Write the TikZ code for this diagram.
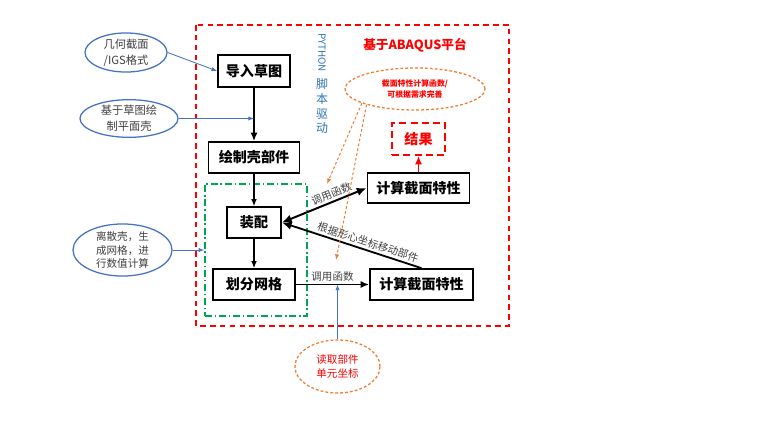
\documentclass[tikz,border=0pt]{standalone}
\usepackage{fontspec}
\setmainfont{Noto Sans CJK SC}
\usetikzlibrary{positioning, arrows.meta, shapes.geometric}
\definecolor{rojo}{HTML}{FF0000}
\definecolor{naranja}{HTML}{ED7D31}
\definecolor{azul}{HTML}{4472C4}
\definecolor{celeste}{HTML}{2E75B6}
\definecolor{verde}{HTML}{00A550}
\definecolor{tenue}{HTML}{404040}

\begin{document}
\begin{tikzpicture}[x=0.025cm, y=-0.025cm,
		caja/.style={draw, line width=1.2pt, inner sep=0pt, font=\fontsize{10}{12}\selectfont\bfseries},
		nube/.style={ellipse, draw=azul, line width=0.9pt, fill=white, inner sep=0pt, align=center, text=tenue, font=\fontsize{8}{11.5}\selectfont},
		nota/.style={ellipse, draw=naranja, dash pattern=on 2pt off 1.5pt, line width=0.9pt, inner sep=0pt, align=center, text=rojo},
		flecha/.style={-{Latex[length=5pt,width=4pt]}, line width=0.8pt},
		gruesa/.style={-{Latex[length=6pt,width=5pt]}, line width=1.3pt},
		doble/.style={{Latex[length=7pt,width=6pt]}-{Latex[length=7pt,width=6pt]}, line width=1.4pt},
		vuelta/.style={{Latex[length=7pt,width=6pt]}-, line width=1.3pt},
		fina/.style={-{Latex[length=4pt,width=3pt]}, azul, line width=0.6pt},
		punteada/.style={-{Latex[length=4pt,width=3pt]}, naranja, dash pattern=on 2pt off 1.5pt, line width=0.7pt},
		etiq/.style={text=tenue, font=\fontsize{7.5}{9}\selectfont, inner sep=1.5pt},
	]
	\useasboundingbox (0,0) rectangle (760,427);
	% marcos
	\draw[rojo, dash pattern=on 4pt off 3pt, line width=1.1pt] (196,25) rectangle (509,326);
	\node[draw=verde, dash pattern=on 5pt off 2pt on 1pt off 2pt, line width=1pt, minimum width=2.55cm, minimum height=3.3cm] (lsk) at (256,250) {};
	\node[text=rojo, font=\fontsize{9}{10}\selectfont\bfseries] (tit) at (415,45) {基于ABAQUS平台};
	\node[rotate=-90, anchor=west, text=celeste, font=\fontsize{7}{8}\selectfont, inner sep=0pt] (py) at (322,33) {PYTHON};
	\node[anchor=north, align=center, text=celeste, font=\fontsize{8.5}{10.6}\selectfont, inner sep=0pt] (qd) at (322,78) {脚\\本\\驱\\动};
	\node[nota, minimum width=3.5cm, minimum height=1.05cm, font=\fontsize{5.6}{7.2}\selectfont\bfseries] (hs) at (415,89) {截面特性计算函数/\\可根据需求完善};
	% cajas
	\node[caja, draw=rojo, text=rojo, dash pattern=on 5pt off 3pt, minimum width=1.325cm, minimum height=0.8cm] (jg) at (418.5,139) {结果};
	\node[caja, minimum width=1.8cm, minimum height=0.8cm] (dr) at (254,71) {导入草图};
	\node[caja, minimum width=2.275cm, minimum height=0.775cm] (hz) at (254,157.5) {绘制壳部件};
	\node[caja, minimum width=1.35cm, minimum height=0.775cm] (zp) at (254,222.5) {装配};
	\node[caja, minimum width=2.05cm, minimum height=0.775cm] (hf) at (254,284.5) {划分网格};
	\node[caja, minimum width=2.55cm, minimum height=0.75cm] (js1) at (418.5,188) {计算截面特性};
	\node[caja, minimum width=2.575cm, minimum height=0.775cm] (js2) at (421.5,284.5) {计算截面特性};
	% notas
	\node[nube, minimum width=2.05cm, minimum height=0.875cm] (e1) at (126,52.5) {几何截面\\/IGS格式};
	\node[nube, minimum width=2.45cm, minimum height=0.925cm] (e2) at (129,118.5) {基于草图绘\\制平面壳};
	\node[nube, minimum width=2.475cm, minimum height=1.15cm, font=\fontsize{7.5}{9.6}\selectfont] (e3) at (122.5,250) {离散壳，生\\成网格，进\\行数值计算};
	\node[nota, minimum width=2.125cm, minimum height=1.325cm, font=\fontsize{7.5}{10.6}\selectfont] (e4) at (337.5,366.5) {读取部件\\单元坐标};
	% flechas
	\draw[gruesa] (dr) -- (hz);
	\draw[flecha] (hz) -- (zp);
	\draw[flecha] (zp) -- (hf);
	\draw[doble] (zp.east) -- node[etiq, sloped, above, pos=0.62] {调用函数} (js1.west);
	\draw[vuelta] (zp.east) -- node[etiq, sloped, above, pos=0.6] {根据形心坐标移动部件} (js2.north);
	\draw[gruesa] (hf) -- node[etiq, above] {调用函数} (js2);
	\draw[gruesa, rojo] (js1) -- (jg);
	\coordinate (p2) at (dr.south |- e2.east);
	\coordinate (p4) at (e4.north |- hf.east);
	\coordinate (h1) at (327,184);
	\coordinate (h2) at (336,260);
	\draw[fina] (e1.east) -- (dr.west);
	\draw[fina] (e2) -- (p2);
	\draw[fina] (e3) -- (lsk.west);
	\draw[fina] (e4) -- (p4);
	\draw[punteada] (hs.195) -- (h1);
	\draw[punteada] (hs.198) -- (h2);
\end{tikzpicture}
\end{document}
